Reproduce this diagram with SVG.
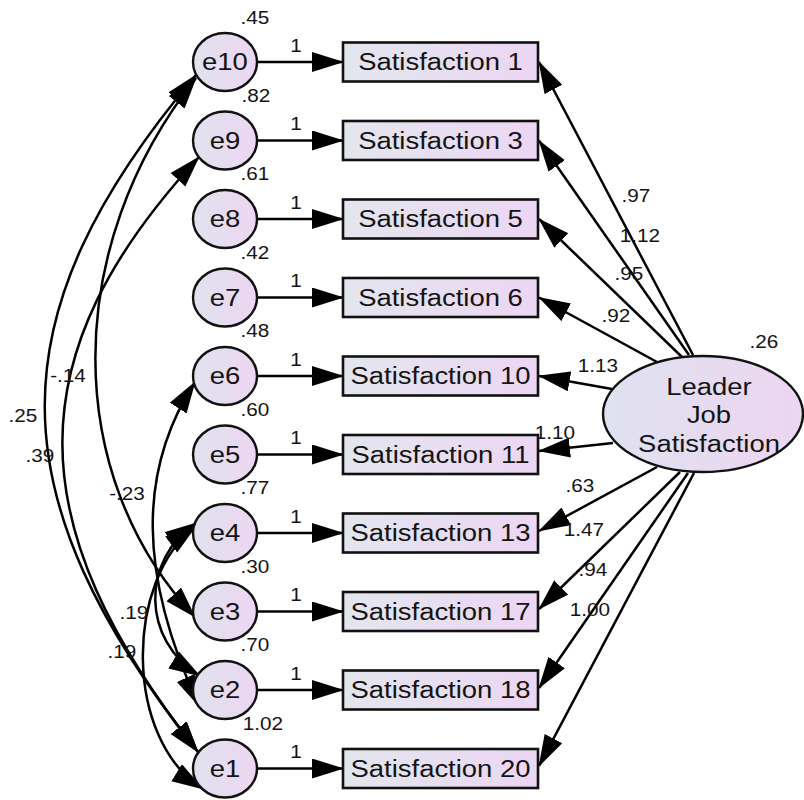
<svg xmlns="http://www.w3.org/2000/svg" width="804" height="800" viewBox="0 0 804 800">
  <style>
    text { font-family: "Liberation Sans", Arial, sans-serif; fill: #141414; text-anchor: middle;
           transform-box: fill-box; transform-origin: center; transform: scaleX(1.12); }
    .big { font-size: 24.5px; }
    .num { font-size: 18.5px; }
    .obs { fill: url(#boxFill); stroke: #111; stroke-width: 2.6; }
    .err { fill: url(#errFill); stroke: #111; stroke-width: 2.4; }
    .lat { fill: url(#latFill); stroke: #111; stroke-width: 2.4; }
    .path { fill: none; stroke: #000; stroke-width: 2.5; marker-end: url(#head); }
    .cov { fill: none; stroke: #000; stroke-width: 2.5; marker-start: url(#head); marker-end: url(#head); }
  </style>
  <defs>
    <linearGradient id="boxFill" x1="0" y1="0" x2="1" y2="0">
      <stop offset="0" stop-color="#e3e6ee"/>
      <stop offset="1" stop-color="#ecd6f4"/>
    </linearGradient>
    <linearGradient id="errFill" x1="0" y1="0" x2="1" y2="0">
      <stop offset="0" stop-color="#e0e2ef"/>
      <stop offset="1" stop-color="#edd6f2"/>
    </linearGradient>
    <linearGradient id="latFill" x1="0" y1="0" x2="1" y2="0">
      <stop offset="0" stop-color="#dfe2f0"/>
      <stop offset="1" stop-color="#ecd5f1"/>
    </linearGradient>
    <marker id="head" markerUnits="userSpaceOnUse" markerWidth="34" markerHeight="22" refX="31" refY="10" orient="auto-start-reverse">
      <path d="M0,0 L32,10 L0,20 z" fill="#000"/>
    </marker>
  </defs>

  <!-- paths, loadings and covariances -->
  <g id="connectors">
    <!-- error -> indicator -->
    <line class="path" x1="257" y1="62" x2="343" y2="62"/>
    <line class="path" x1="257" y1="140.5" x2="343" y2="140.5"/>
    <line class="path" x1="257" y1="219" x2="343" y2="219"/>
    <line class="path" x1="257" y1="297.5" x2="343" y2="297.5"/>
    <line class="path" x1="257" y1="376" x2="343" y2="376"/>
    <line class="path" x1="257" y1="454.5" x2="343" y2="454.5"/>
    <line class="path" x1="257" y1="533" x2="343" y2="533"/>
    <line class="path" x1="257" y1="611.5" x2="343" y2="611.5"/>
    <line class="path" x1="257" y1="690" x2="343" y2="690"/>
    <line class="path" x1="257" y1="768.5" x2="343" y2="768.5"/>

    <!-- latent -> indicator -->
    <line class="path" x1="693" y1="355" x2="539" y2="62"/>
    <line class="path" x1="689" y1="355" x2="539" y2="140.5"/>
    <line class="path" x1="682" y1="357" x2="539" y2="219"/>
    <line class="path" x1="657" y1="362" x2="539" y2="297.5"/>
    <line class="path" x1="612" y1="389" x2="539" y2="376"/>
    <line class="path" x1="613" y1="443" x2="539" y2="451"/>
    <line class="path" x1="657" y1="467" x2="539" y2="531"/>
    <line class="path" x1="680" y1="472" x2="539" y2="609"/>
    <line class="path" x1="688" y1="473" x2="539" y2="688"/>
    <line class="path" x1="694" y1="473" x2="539" y2="766"/>

    <!-- covariances between errors -->
    <path class="cov" d="M196,75 C-6,315 -6,494 198,752"/>
    <path class="cov" d="M199,157 C17,354 17,523 198,752"/>
    <path class="cov" d="M196,78 C62,247 62,475 195,617"/>
    <path class="cov" d="M195,382 C138,470 138,574 199,706"/>
    <path class="cov" d="M196,523 C141,560 141,640 200,676"/>
    <path class="cov" d="M196,526 C124,580 124,740 203,789"/>

    <!-- fixed paths -->
    <text class="num" x="296" y="52">1</text>
    <text class="num" x="296" y="130.5">1</text>
    <text class="num" x="296" y="209">1</text>
    <text class="num" x="296" y="287.5">1</text>
    <text class="num" x="296" y="366">1</text>
    <text class="num" x="296" y="444.5">1</text>
    <text class="num" x="296" y="523">1</text>
    <text class="num" x="296" y="601.5">1</text>
    <text class="num" x="296" y="680">1</text>
    <text class="num" x="296" y="758.5">1</text>

    <!-- loadings -->
    <text class="num" x="636" y="202">.97</text>
    <text class="num" x="640" y="242">1.12</text>
    <text class="num" x="629" y="280">.95</text>
    <text class="num" x="616" y="322">.92</text>
    <text class="num" x="598" y="372">1.13</text>
    <text class="num" x="555" y="439">1.10</text>
    <text class="num" x="580" y="492">.63</text>
    <text class="num" x="584" y="536">1.47</text>
    <text class="num" x="593" y="576">.94</text>
    <text class="num" x="590" y="616">1.00</text>

    <!-- covariances -->
    <text class="num" x="68" y="382">-.14</text>
    <text class="num" x="23" y="422">.25</text>
    <text class="num" x="40" y="462">.39</text>
    <text class="num" x="127" y="500">-.23</text>
    <text class="num" x="134" y="619">.19</text>
    <text class="num" x="122" y="658">.19</text>
  </g>

  <!-- error terms -->
  <g id="e10"><ellipse class="err" cx="225" cy="62" rx="32" ry="29"/><text class="big" x="225" y="70.5">e10</text><text class="num" x="255" y="24">.45</text></g>
  <g id="e9"><ellipse class="err" cx="225" cy="140.5" rx="32" ry="29"/><text class="big" x="225" y="149">e9</text><text class="num" x="256" y="102">.82</text></g>
  <g id="e8"><ellipse class="err" cx="225" cy="219" rx="32" ry="29"/><text class="big" x="225" y="227.5">e8</text><text class="num" x="255" y="180.5">.61</text></g>
  <g id="e7"><ellipse class="err" cx="225" cy="297.5" rx="32" ry="29"/><text class="big" x="225" y="306">e7</text><text class="num" x="255" y="259">.42</text></g>
  <g id="e6"><ellipse class="err" cx="225" cy="376" rx="32" ry="29"/><text class="big" x="225" y="384.5">e6</text><text class="num" x="255" y="337.5">.48</text></g>
  <g id="e5"><ellipse class="err" cx="225" cy="454.5" rx="32" ry="29"/><text class="big" x="225" y="463">e5</text><text class="num" x="255" y="416">.60</text></g>
  <g id="e4"><ellipse class="err" cx="225" cy="533" rx="32" ry="29"/><text class="big" x="225" y="541.5">e4</text><text class="num" x="255" y="494.5">.77</text></g>
  <g id="e3"><ellipse class="err" cx="225" cy="611.5" rx="32" ry="29"/><text class="big" x="225" y="620">e3</text><text class="num" x="255" y="573">.30</text></g>
  <g id="e2"><ellipse class="err" cx="225" cy="690" rx="32" ry="29"/><text class="big" x="225" y="698.5">e2</text><text class="num" x="255" y="651.5">.70</text></g>
  <g id="e1"><ellipse class="err" cx="225" cy="768.5" rx="32" ry="29"/><text class="big" x="225" y="777">e1</text><text class="num" x="263" y="730">1.02</text></g>

  <!-- observed indicators -->
  <g id="sat1"><rect class="obs" x="343" y="42.5" width="195" height="39"/><text class="big" x="440.5" y="70.5">Satisfaction 1</text></g>
  <g id="sat3"><rect class="obs" x="343" y="121" width="195" height="39"/><text class="big" x="440.5" y="149">Satisfaction 3</text></g>
  <g id="sat5"><rect class="obs" x="343" y="199.5" width="195" height="39"/><text class="big" x="440.5" y="227.5">Satisfaction 5</text></g>
  <g id="sat6"><rect class="obs" x="343" y="278" width="195" height="39"/><text class="big" x="440.5" y="306">Satisfaction 6</text></g>
  <g id="sat10"><rect class="obs" x="343" y="356.5" width="195" height="39"/><text class="big" x="440.5" y="384.5">Satisfaction 10</text></g>
  <g id="sat11"><rect class="obs" x="343" y="435" width="195" height="39"/><text class="big" x="440.5" y="463">Satisfaction 11</text></g>
  <g id="sat13"><rect class="obs" x="343" y="513.5" width="195" height="39"/><text class="big" x="440.5" y="541.5">Satisfaction 13</text></g>
  <g id="sat17"><rect class="obs" x="343" y="592" width="195" height="39"/><text class="big" x="440.5" y="620">Satisfaction 17</text></g>
  <g id="sat18"><rect class="obs" x="343" y="670.5" width="195" height="39"/><text class="big" x="440.5" y="698.5">Satisfaction 18</text></g>
  <g id="sat20"><rect class="obs" x="343" y="749" width="195" height="39"/><text class="big" x="440.5" y="777">Satisfaction 20</text></g>

  <!-- latent factor -->
  <g id="leader">
    <ellipse class="lat" cx="703" cy="414" rx="100" ry="58"/>
    <text class="big" x="709" y="395">Leader</text>
    <text class="big" x="709" y="423.5">Job</text>
    <text class="big" x="709" y="452">Satisfaction</text>
    <text class="num" x="764" y="348">.26</text>
  </g>
</svg>
